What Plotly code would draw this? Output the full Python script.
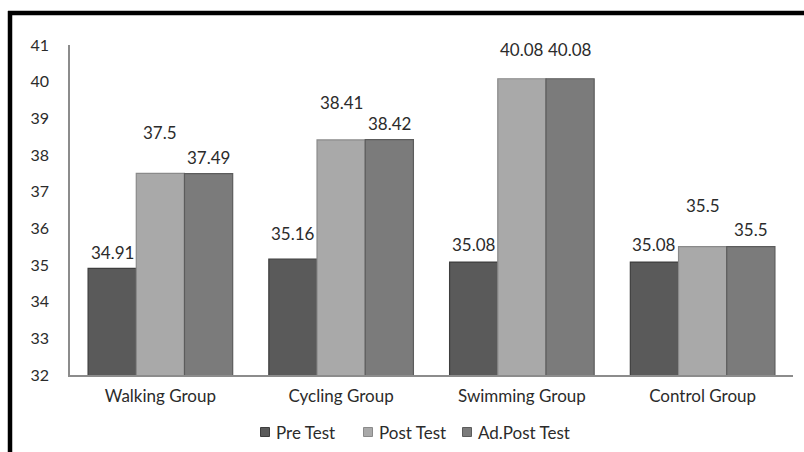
import plotly.graph_objects as go

groups = ["Walking Group", "Cycling Group", "Swimming Group", "Control Group"]
pre_test = [34.91, 35.16, 35.08, 35.08]
post_test = [37.5, 38.41, 40.08, 35.5]
ad_post_test = [37.49, 38.42, 40.08, 35.5]
y_ticks = [32, 33, 34, 35, 36, 37, 38, 39, 40, 41]

series = [
    ("Pre Test", pre_test, "#5a5a5a", "#3e3e3e"),
    ("Post Test", post_test, "#a9a9a9", "#8a8a8a"),
    ("Ad.Post Test", ad_post_test, "#7b7b7b", "#5c5c5c"),
]

# vertical lift (px) of each value label above its bar top
label_lift = [
    [16, 26, 18, 18],
    [41, 37, 29, 41],
    [16, 16, 29, 17],
]
# legend key positions (px from the left edge)
legend_key_x = [265, 368, 467]

W, H = 804, 452
L, R, T, B = 70, 11, 45, 77
plot_w = W - L - R
plot_h = H - T - B

FONT = "Lato, 'Open Sans', sans-serif"
TEXT = "#2b2b2b"

px = lambda p: (p - L) / plot_w
py = lambda p: (H - B - p) / plot_h

fig = go.Figure()
for name, vals, fill, edge in series:
    fig.add_trace(go.Bar(
        name=name, x=groups, y=vals,
        marker=dict(color=fill, line=dict(color=edge, width=1.2)),
        hoverinfo="x+y", showlegend=False,
    ))

bar_w = plot_w / len(groups) * 0.8 / len(series)
annotations = []
for i, (name, vals, _, _) in enumerate(series):
    shift = (i - 1) * bar_w
    for j, v in enumerate(vals):
        annotations.append(dict(
            x=groups[j], y=v, xref="x", yref="y",
            text=f"{v:g}", showarrow=False,
            xshift=shift, yshift=label_lift[i][j],
            yanchor="middle", xanchor="center",
            font=dict(family=FONT, size=17, color=TEXT),
        ))

shapes = [
    # frame lines along the top and left edges
    dict(type="line", xref="paper", yref="paper",
         x0=px(8), x1=px(W + 5), y0=py(13), y1=py(13),
         line=dict(color="black", width=4.5)),
    dict(type="line", xref="paper", yref="paper",
         x0=px(10), x1=px(10), y0=py(11), y1=py(H + 5),
         line=dict(color="black", width=4.5)),
]

# legend row below the category labels
key = 9
legend_y = 432
for (name, _, fill, edge), kx in zip(series, legend_key_x):
    shapes.append(dict(
        type="rect", xref="paper", yref="paper",
        x0=px(kx - key / 2), x1=px(kx + key / 2),
        y0=py(legend_y + key / 2), y1=py(legend_y - key / 2),
        fillcolor=fill, line=dict(color=edge, width=1),
    ))
    annotations.append(dict(
        x=px(kx + 9), y=py(legend_y), xref="paper", yref="paper",
        text=name, showarrow=False, xanchor="left", yanchor="middle",
        font=dict(family=FONT, size=17, color=TEXT),
    ))

fig.update_layout(
    width=W, height=H,
    margin=dict(l=L, r=R, t=T, b=B),
    paper_bgcolor="white", plot_bgcolor="white",
    barmode="group", bargap=0.2, bargroupgap=0,
    font=dict(family=FONT, size=16, color=TEXT),
    showlegend=False,
    annotations=annotations,
    shapes=shapes,
    xaxis=dict(showline=True, linecolor="#8c8c8c", linewidth=1.5,
               ticks="", showgrid=False,
               tickfont=dict(family=FONT, size=17, color=TEXT),
               ticklabelstandoff=5),
    yaxis=dict(range=[32, 41], tickvals=y_ticks, showline=True,
               linecolor="#8c8c8c", linewidth=1.5, ticks="",
               showgrid=False, zeroline=False,
               tickfont=dict(family=FONT, size=16, color=TEXT),
               ticklabelstandoff=16),
)

fig.write_html("out.html")
